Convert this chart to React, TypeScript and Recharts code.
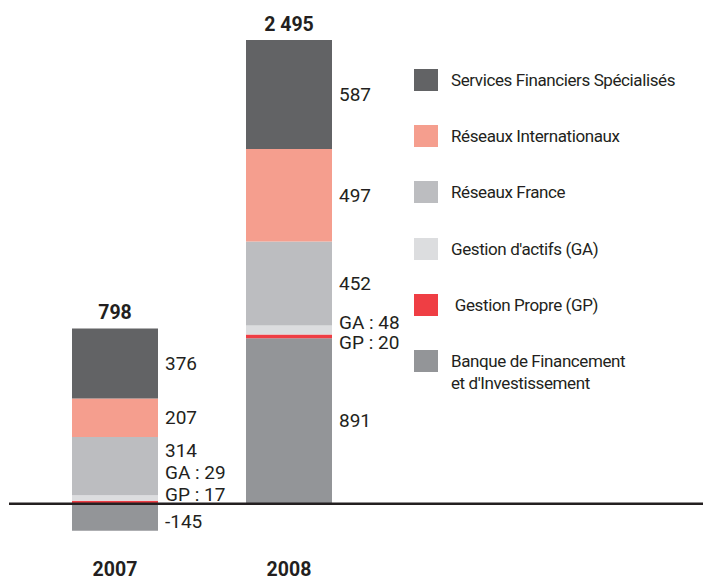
import React from 'react';
import { BarChart, Bar, XAxis, YAxis, ReferenceLine, LabelList } from 'recharts';

// values (millions of euros)
const years = ['2007', '2008'];
const servicesFinanciers = [376, 587];
const reseauxInternationaux = [207, 497];
const reseauxFrance = [314, 452];
const gestionActifs = [29, 48];
const gestionPropre = [17, 20];
const banqueFinancement = [-145, 891];
const totalLabels = ['798', '2 495'];

const FONT = 'Roboto, "Liberation Sans", sans-serif';
const TEXT = '#231f20';

// stack order: first one sits at the bottom
const series = [
  { key: 'bfi', name: "Banque de Financement\net d'Investissement", color: '#939598', prefix: '' },
  { key: 'gp', name: ' Gestion Propre (GP)', color: '#ef3e44', prefix: 'GP : ' },
  { key: 'ga', name: "Gestion d'actifs (GA)", color: '#dcdddf', prefix: 'GA : ' },
  { key: 'rf', name: 'Réseaux France', color: '#bcbdc0', prefix: '' },
  { key: 'ri', name: 'Réseaux Internationaux', color: '#f59e8e', prefix: '' },
  { key: 'sfs', name: 'Services Financiers Spécialisés', color: '#626365', prefix: '' },
];

// vertical nudges for the side labels, so small segments don't collide
const labelNudge: Record<string, number[]> = {
  sfs: [0, 0],
  ri: [0, 0],
  rf: [-16, 0],
  ga: [-25, -7],
  gp: [-8, 6],
  bfi: [4, 0],
};

const data = years.map((year, i) => ({
  year,
  sfs: servicesFinanciers[i],
  ri: reseauxInternationaux[i],
  rf: reseauxFrance[i],
  ga: gestionActifs[i],
  gp: gestionPropre[i],
  bfi: banqueFinancement[i],
  total: totalLabels[i],
}));

const sideLabel = (key: string, prefix: string) => (props: any) => {
  const box = props.viewBox || props;
  const { x, y, width, height } = box;
  const idx = props.index ?? 0;
  return (
    <text
      x={x + width + 7}
      y={y + height / 2 + (labelNudge[key][idx] || 0)}
      dominantBaseline="central"
      fontFamily={FONT}
      fontSize={19}
      fill={TEXT}
    >
      {prefix + props.value}
    </text>
  );
};

const totalLabel = (props: any) => {
  const box = props.viewBox || props;
  const { x, y, width } = box;
  return (
    <text x={x + width / 2} y={y - 9} textAnchor="middle" fontFamily={FONT} fontSize={19.5} fontWeight="bold" fill={TEXT}>
      {props.value}
    </text>
  );
};

const YearTick = (props: any) => (
  <text x={props.x} y={props.y + 35} textAnchor="middle" fontFamily={FONT} fontSize={19.5} fontWeight="bold" fill={TEXT}>
    {props.payload.value}
  </text>
);

const LegendBox = () => (
  <div style={{ position: 'absolute', left: 414, top: 69, fontFamily: FONT, fontSize: 17, color: TEXT, letterSpacing: -0.4 }}>
    {[...series].reverse().map((s, i) => (
      <div key={s.key} style={{ position: 'absolute', left: 0, top: i * 56.2, display: 'flex', alignItems: 'flex-start' }}>
        <div style={{ width: 24, height: 22, background: s.color, flexShrink: 0 }} />
        <div style={{ marginLeft: 13, whiteSpace: 'pre', lineHeight: '22px' }}>{s.name}</div>
      </div>
    ))}
  </div>
);

export default function App() {
  return (
    <div style={{ position: 'absolute', left: 0, top: 0, width: 703, height: 577 }}>
      <BarChart
        width={703}
        height={577}
        data={data}
        stackOffset="sign"
        margin={{ top: 39, right: 0, bottom: 0, left: 9 }}
      >
        <XAxis
          dataKey="year"
          height={36}
          axisLine={false}
          tickLine={false}
          tickSize={0}
          tickMargin={0}
          padding={{ left: 19, right: 327 }}
          tick={<YearTick />}
        />
        <YAxis hide domain={[-200, 2500]} />
        {series.map((s) => (
          <Bar key={s.key} dataKey={s.key} name={s.name} stackId="a" fill={s.color} barSize={86} isAnimationActive={false}>
            <LabelList dataKey={s.key} content={sideLabel(s.key, s.prefix)} />
            {s.key === 'sfs' && <LabelList dataKey="total" content={totalLabel} />}
          </Bar>
        ))}
        <ReferenceLine y={0} stroke={TEXT} strokeWidth={2.5} />
      </BarChart>
      <LegendBox />
    </div>
  );
}
